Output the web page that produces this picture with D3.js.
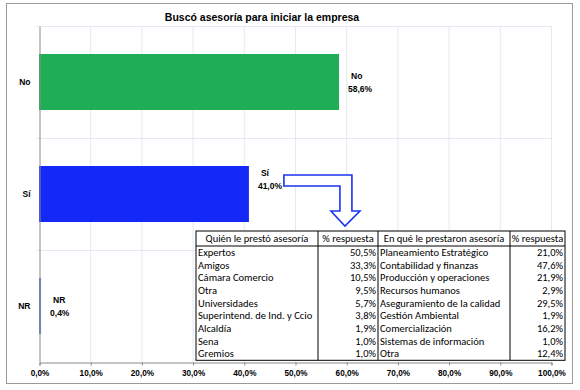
<!DOCTYPE html>
<html><head><meta charset="utf-8">
<script src="https://cdnjs.cloudflare.com/ajax/libs/d3/7.8.5/d3.min.js"></script>
<style>body{margin:0;background:#fff}svg{display:block}</style>
</head><body>
<script>
const title = "Buscó asesoría para iniciar la empresa";
const categories = ["No", "Sí", "NR"];
const values = [58.6, 41.0, 0.4];
const barColors = ["#1fae56", "#1428f8", "#4f86d0"];
const xTicks = [0,10,20,30,40,50,60,70,80,90,100];

const quienHeader = ["Quién le prestó asesoría", "% respuesta"];
const quienLabels = ["Expertos","Amigos","Cámara Comercio","Otra","Universidades","Superintend. de Ind. y Ccio","Alcaldía","Sena","Gremios"];
const quienPct = [50.5,33.3,10.5,9.5,5.7,3.8,1.9,1.0,1.0];
const enqueHeader = ["En qué le prestaron asesoría", "% respuesta"];
const enqueLabels = ["Planeamiento Estratégico","Contabilidad y finanzas","Producción y operaciones","Recursos humanos","Aseguramiento de la calidad","Gestión Ambiental","Comercialización","Sistemas de información","Otra"];
const enquePct = [21.0,47.6,21.9,2.9,29.5,1.9,16.2,1.0,12.4];

(function () {
const W = 580, H = 390;
const fmt = v => v.toFixed(1).replace(".", ",") + "%";
const svg = d3.select("body").append("svg").attr("width", W).attr("height", H);
svg.append("rect").attr("x", 6.5).attr("y", 3.5).attr("width", 566).attr("height", 380)
  .attr("fill", "#fff").attr("stroke", "#9a9a9a").attr("stroke-width", 1);

const pL = 39, pR = 551, pT = 26, pB = 362;
const x = d3.scaleLinear().domain([0, 100]).range([pL, pR]);
const y = d3.scaleBand().domain(categories).range([pT, pB]).paddingInner(0).paddingOuter(0);
const bh = y.bandwidth() * 0.5;

svg.append("text").attr("x", 262).attr("y", 21).attr("text-anchor", "middle")
  .attr("font-family", "Liberation Sans, Arial, sans-serif").attr("font-weight", "bold")
  .attr("font-size", 10.5).attr("fill", "#000").text(title);

const grid = svg.append("g");
grid.selectAll("line.v").data(xTicks.slice(1)).join("line")
  .attr("x1", d => x(d) + 0.5).attr("x2", d => x(d) + 0.5)
  .attr("y1", pT).attr("y2", pB).attr("stroke", "#e3eaf3").attr("stroke-width", 1);
grid.selectAll("line.h").data(categories).join("line")
  .attr("x1", pL - 3).attr("x2", pR)
  .attr("y1", d => Math.round(y(d)) + 0.5).attr("y2", d => Math.round(y(d)) + 0.5)
  .attr("stroke", "#e3eaf3").attr("stroke-width", 1);

svg.selectAll("rect.bar").data(categories).join("rect")
  .attr("x", x(0)).attr("y", d => y(d) + (y.bandwidth() - bh) / 2)
  .attr("width", (d, i) => Math.max(2, x(values[i]) - x(0)))
  .attr("height", bh).attr("fill", (d, i) => barColors[i]);

const xAxis = d3.axisBottom(x).tickValues(xTicks).tickFormat(d => d.toFixed(1).replace(".", ",") + "%").tickSize(3).tickPadding(5);
const gx = svg.append("g").attr("transform", `translate(0.5,${pB + 0.5})`).call(xAxis);
gx.select(".domain").attr("stroke", "#8a8a8a");
gx.selectAll(".tick line").attr("stroke", "#8a8a8a");
gx.selectAll("text").attr("font-family", "Liberation Sans, Arial, sans-serif").attr("font-weight", "bold").attr("font-size", 8.2).attr("fill", "#000");

const yAxis = d3.axisLeft(y).tickSize(0).tickPadding(9);
const gy = svg.append("g").attr("transform", `translate(${pL + 0.5},0)`).call(yAxis);
gy.select(".domain").attr("stroke", "#8a8a8a");
gy.selectAll("text").attr("font-family", "Liberation Sans, Arial, sans-serif").attr("font-weight", "bold").attr("font-size", 8.5).attr("fill", "#000");

const labelShift = [0, -15, 0];
const lbl = svg.append("g").attr("font-family", "Liberation Sans, Arial, sans-serif").attr("font-weight", "bold").attr("font-size", 8.5).attr("fill", "#000");
categories.forEach((c, i) => {
  const cy = y(c) + y.bandwidth() / 2 + labelShift[i];
  const lx = x(values[i]) + 9;
  const t = lbl.append("text").attr("x", lx).attr("y", cy - 3);
  t.append("tspan").attr("x", lx + 3).text(c);
  t.append("tspan").attr("x", lx).attr("dy", 12.5).text(fmt(values[i]));
});

const ax0 = x(values[1]) + 35, ay0 = y("Sí") + 37;
const p = [[ax0, ay0],[ax0 + 68, ay0],[ax0 + 68, ay0 + 36],[ax0 + 76, ay0 + 36],[ax0 + 61, ay0 + 51],
           [ax0 + 47, ay0 + 36],[ax0 + 56, ay0 + 36],[ax0 + 56, ay0 + 11],[ax0, ay0 + 11]];
svg.append("path").attr("d", d3.line()(p) + "Z").attr("fill", "#fff").attr("stroke", "#1a35f0").attr("stroke-width", 1.6);

const cols = [196, 318, 378, 510, 565];
const tTop = 231, hH = 15, rH = 12.7;
const nRows = quienLabels.length;
const tb = svg.append("g").attr("font-family", "Carlito, Liberation Sans, Arial, sans-serif").attr("font-size", 10.5).attr("fill", "#000");
tb.append("rect").attr("x", cols[0]).attr("y", tTop).attr("width", cols[4] - cols[0]).attr("height", hH + rH * nRows)
  .attr("fill", "#fff").attr("stroke", "#000").attr("stroke-width", 1);
tb.append("line").attr("x1", cols[0]).attr("x2", cols[4]).attr("y1", tTop + hH).attr("y2", tTop + hH).attr("stroke", "#000");
cols.slice(1, 4).forEach(cx => tb.append("line").attr("x1", cx).attr("x2", cx).attr("y1", tTop).attr("y2", tTop + hH + rH * nRows).attr("stroke", "#000"));
const headers = [quienHeader[0], quienHeader[1], enqueHeader[0], enqueHeader[1]];
headers.forEach((h, i) => tb.append("text").attr("x", (cols[i] + cols[i + 1]) / 2).attr("y", tTop + 11)
  .attr("text-anchor", "middle").text(h));
const rowY = i => tTop + hH + rH * i + 9.8;
tb.selectAll("text.q").data(quienLabels).join("text").attr("x", cols[0] + 2).attr("y", (d, i) => rowY(i)).text(d => d);
tb.selectAll("text.qp").data(quienPct).join("text").attr("x", cols[2] - 2).attr("y", (d, i) => rowY(i)).attr("text-anchor", "end").text(fmt);
tb.selectAll("text.e").data(enqueLabels).join("text").attr("x", cols[2] + 2).attr("y", (d, i) => rowY(i)).text(d => d);
tb.selectAll("text.ep").data(enquePct).join("text").attr("x", cols[4] - 2).attr("y", (d, i) => rowY(i)).attr("text-anchor", "end").text(fmt);
})();
</script>
</body></html>
